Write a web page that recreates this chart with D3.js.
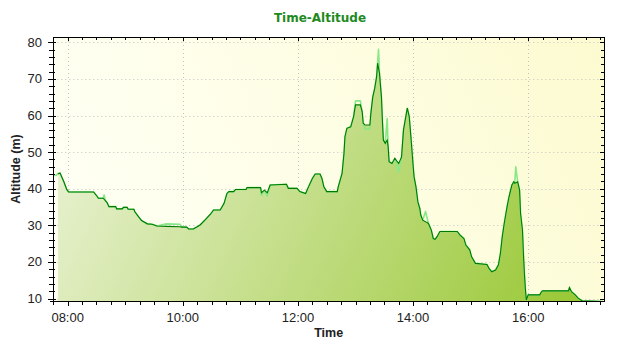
<!DOCTYPE html>
<html><head><meta charset="utf-8">
<script src="https://cdn.jsdelivr.net/npm/d3@7"></script>
<style>html,body{margin:0;padding:0;background:#fff;}svg{display:block;}</style>
</head><body>
<svg id="chart" width="640" height="350"></svg>
<script>
// ---- Data ----
const chartTitle = "Time-Altitude";
const xTitle = "Time";
const yTitle = "Altitude (m)";
const xTickLabels = ["08:00","10:00","12:00","14:00","16:00"];
const yTickValues = [10,20,30,40,50,60,70,80];

// smoothed track (dark green)
const smoothTimes = ["07:50","07:52","07:56","07:59","08:01","08:27","08:31","08:32","08:37","08:41","08:43","08:50","08:51","08:57","08:58","09:02","09:03","09:09","09:10","09:14","09:17","09:23","09:28","09:33","09:43","09:57","09:59","10:04","10:06","10:11","10:15","10:18","10:23","10:29","10:32","10:39","10:43","10:46","10:48","10:53","10:55","11:06","11:07","11:21","11:22","11:25","11:28","11:31","11:48","11:50","11:59","12:02","12:08","12:11","12:15","12:18","12:23","12:25","12:27","12:30","12:41","12:42","12:46","12:48","12:49","12:51","12:55","12:58","13:00","13:05","13:07","13:08","13:10","13:15","13:16","13:18","13:20","13:22","13:23","13:25","13:27","13:28","13:29","13:31","13:33","13:34","13:35","13:38","13:41","13:45","13:48","13:50","13:53","13:54","13:56","13:58","14:00","14:01","14:03","14:05","14:07","14:08","14:10","14:13","14:16","14:19","14:21","14:23","14:25","14:28","14:46","14:49","14:53","14:55","14:59","15:01","15:05","15:17","15:19","15:22","15:26","15:29","15:31","15:33","15:35","15:38","15:40","15:43","15:45","15:46","15:49","15:51","15:52","15:54","15:55","15:56","15:57","15:58","16:00","16:12","16:14","16:15","16:42","16:43","16:45","16:49","16:52","16:56","17:18"];
const smoothAltitude = [44.0,44.3,41.9,39.8,39.1,39.1,37.8,37.4,37.4,36.2,35.1,35.1,34.5,34.5,34.9,34.9,34.4,34.4,33.7,32.3,31.3,30.4,30.3,29.8,29.7,29.6,29.5,29.5,29.0,29.0,29.6,30.1,31.4,33.1,34.2,34.2,36.0,38.7,39.2,39.2,39.8,39.8,40.3,40.3,38.9,39.6,38.9,41.0,41.2,40.1,40.1,39.2,38.7,40.5,42.8,44.0,44.0,42.8,40.5,39.2,39.2,40.5,44.2,49.7,54.2,56.5,56.9,59.7,62.9,62.9,61.0,57.9,57.4,57.4,60.6,65.1,67.4,70.6,74.3,71.5,65.1,58.8,53.3,52.4,53.3,51.5,47.4,46.9,48.3,46.9,48.7,56.0,60.6,62.0,59.7,53.3,46.5,43.3,40.5,36.4,34.6,32.8,31.4,31.0,30.5,28.7,26.4,26.2,26.9,28.3,28.3,27.3,26.4,24.6,23.3,21.4,19.6,19.3,18.3,17.3,17.8,19.2,22.3,26.9,30.5,35.1,37.8,41.0,41.9,41.5,41.9,39.6,33.3,28.7,22.3,16.9,12.8,9.6,11.0,11.0,11.9,12.1,12.1,13.0,11.9,11.0,10.1,9.4,9.2];

// raw track (light green)
const rawTimes = ["07:45","07:48","07:50","07:52","07:56","07:59","08:01","08:27","08:31","08:32","08:37","08:38","08:39","08:41","08:43","08:50","08:51","08:57","08:58","09:02","09:03","09:09","09:10","09:14","09:17","09:23","09:28","09:33","09:43","09:57","09:59","10:04","10:06","10:11","10:15","10:18","10:23","10:29","10:32","10:39","10:43","10:46","10:48","10:53","10:55","11:06","11:07","11:21","11:22","11:25","11:28","11:31","11:48","11:50","11:59","12:02","12:08","12:11","12:15","12:18","12:23","12:25","12:27","12:30","12:41","12:42","12:46","12:48","12:49","12:51","12:55","12:58","13:00","13:05","13:07","13:08","13:10","13:15","13:16","13:18","13:20","13:22","13:24","13:25","13:27","13:28","13:29","13:31","13:33","13:34","13:35","13:38","13:41","13:45","13:48","13:50","13:53","13:54","13:56","13:58","14:00","14:01","14:03","14:05","14:07","14:08","14:10","14:13","14:16","14:19","14:21","14:23","14:25","14:28","14:46","14:49","14:53","14:55","14:59","15:01","15:05","15:17","15:19","15:22","15:26","15:29","15:31","15:33","15:35","15:38","15:40","15:43","15:45","15:46","15:47","15:49","15:51","15:52","15:54","15:55","15:56","15:57","15:58","16:00","16:12","16:14","16:15","16:42","16:43","16:45","16:49","16:52","16:56","17:18"];
const rawAltitude = [43.7,43.6,44.2,44.3,41.9,39.8,39.1,39.1,37.8,37.4,37.4,38.3,37.0,36.2,35.1,35.1,34.5,34.5,34.9,34.9,34.4,34.4,33.7,32.3,31.3,30.4,30.3,29.8,30.4,30.3,29.5,29.5,29.0,29.0,29.6,30.1,31.4,33.1,34.2,34.2,36.0,38.7,39.2,39.2,39.8,39.8,40.3,40.3,38.2,39.6,38.0,41.0,41.2,40.1,40.1,39.2,38.7,40.5,42.8,44.0,44.0,42.8,40.5,39.2,39.2,40.5,44.2,49.7,54.2,56.5,56.9,59.7,64.0,64.0,61.0,57.9,56.3,56.3,60.6,65.1,67.4,70.6,78.1,71.5,65.1,58.8,53.3,52.4,59.2,51.5,47.4,46.9,48.3,44.6,48.7,56.0,60.6,62.0,59.7,53.3,46.5,43.3,40.5,36.4,34.6,32.8,31.4,33.8,30.5,28.7,26.4,26.2,26.9,28.3,28.3,27.3,26.4,24.6,23.3,21.4,19.6,19.3,18.3,17.3,17.8,19.2,22.3,26.9,30.5,35.1,37.8,41.0,41.9,41.5,46.0,41.9,39.6,33.3,28.7,22.3,16.9,12.8,9.6,11.0,11.0,11.9,12.1,12.1,13.0,11.9,11.0,10.1,9.4,9.2];

// axis extents
const xStart = "07:45", xEnd = "17:19";
const yMin = 9.32, yMax = 81.45;

// ---- Helpers ----
const toMin = s => { const [h,m] = s.split(":").map(Number); return h*60+m; };
const fmt = m => String(Math.floor(m/60)).padStart(2,"0")+":"+String(m%60).padStart(2,"0");

const smooth = smoothTimes.map((t,i)=>({t:toMin(t), v:smoothAltitude[i]}));
const raw = rawTimes.map((t,i)=>({t:toMin(t), v:rawAltitude[i]}));

const L = 53.3, R = 604, T = 37, B = 301;
const svg = d3.select("#chart");
const x = d3.scaleLinear().domain([toMin(xStart), toMin(xEnd)]).range([L, R]);
const y = d3.scaleLinear().domain([yMin, yMax]).range([B, T]);

const defs = svg.append("defs");
const bg = defs.append("linearGradient").attr("id","bg").attr("gradientUnits","userSpaceOnUse")
  .attr("x1",L).attr("y1",B).attr("x2",R).attr("y2",T);
bg.append("stop").attr("offset",0).attr("stop-color","#fffff6");
bg.append("stop").attr("offset",0.5).attr("stop-color","#fefee6");
bg.append("stop").attr("offset",1).attr("stop-color","#fcfacf");
const fg = defs.append("linearGradient").attr("id","fill").attr("gradientUnits","userSpaceOnUse")
  .attr("x1",L).attr("y1",T).attr("x2",R).attr("y2",B);
fg.append("stop").attr("offset",0).attr("stop-color","#eff5df");
fg.append("stop").attr("offset",1).attr("stop-color","#96c62e");
defs.append("clipPath").attr("id","clip").append("rect")
  .attr("x",L).attr("y",T).attr("width",R-L).attr("height",B-T);

// plot background
svg.append("rect").attr("x",L).attr("y",T).attr("width",R-L).attr("height",B-T).attr("fill","url(#bg)");

// grid
const majorX = xTickLabels.map(toMin);
const grid = svg.append("g").attr("stroke","#c4c4c4").attr("stroke-width",1).attr("stroke-dasharray","1,3");
grid.selectAll(".gx").data(majorX).join("line")
  .attr("x1",d=>Math.round(x(d))+0.5).attr("x2",d=>Math.round(x(d))+0.5).attr("y1",T).attr("y2",B);
grid.selectAll(".gy").data(yTickValues).join("line")
  .attr("y1",d=>Math.round(y(d))+0.5).attr("y2",d=>Math.round(y(d))+0.5).attr("x1",L).attr("x2",R);

// data
const plot = svg.append("g").attr("clip-path","url(#clip)");
plot.append("path").datum(smooth)
  .attr("d", d3.area().x(d=>x(d.t)).y0(B).y1(d=>y(d.v)))
  .attr("fill","url(#fill)");
plot.append("path").datum(raw)
  .attr("d", d3.line().x(d=>x(d.t)).y(d=>y(d.v)))
  .attr("fill","none").attr("stroke","#86e886").attr("stroke-width",1.6).attr("stroke-linejoin","round");
plot.append("path").datum(smooth)
  .attr("d", d3.line().x(d=>x(d.t)).y(d=>y(d.v)))
  .attr("fill","none").attr("stroke","#007a00").attr("stroke-width",1.1);

// borders / axes
const ax = svg.append("g").attr("stroke","#000").attr("stroke-width",1).attr("shape-rendering","crispEdges");
ax.append("line").attr("x1",L-3).attr("x2",R).attr("y1",B+0.5).attr("y2",B+0.5);
ax.append("line").attr("x1",L).attr("x2",L).attr("y1",T).attr("y2",B+4);
ax.append("line").attr("x1",L).attr("x2",R+1).attr("y1",T).attr("y2",T);
ax.append("line").attr("x1",R).attr("x2",R).attr("y1",T).attr("y2",B+1);

// x ticks (every 15 min minor, 2 h major)
const xTicks = d3.range(toMin(xStart), toMin(xEnd)+1, 15);
ax.selectAll(".xt").data(xTicks).join("line")
  .attr("x1",d=>Math.round(x(d))).attr("x2",d=>Math.round(x(d)))
  .attr("y1",B).attr("y2",d=>B+(majorX.includes(d)?5:4));
ax.selectAll(".xtt").data(xTicks).join("line")
  .attr("x1",d=>Math.round(x(d))).attr("x2",d=>Math.round(x(d)))
  .attr("y1",T).attr("y2",d=>T+(majorX.includes(d)?4:3));

// y ticks (every 2 minor, 10 major)
const yTicks = d3.range(10, 81, 2);
ax.selectAll(".yt").data(yTicks).join("line")
  .attr("y1",d=>Math.round(y(d))).attr("y2",d=>Math.round(y(d)))
  .attr("x1",d=>L-(d%10===0?5:4)).attr("x2",d=>L+(d%10===0?3:2));
ax.selectAll(".ytr").data(yTicks).join("line")
  .attr("y1",d=>Math.round(y(d))).attr("y2",d=>Math.round(y(d)))
  .attr("x1",d=>R-(d%10===0?4:3)).attr("x2",R);

// labels
const lab = svg.append("g").attr("font-family","'Liberation Sans', Arial, sans-serif").attr("font-size","13px").attr("fill","#222");
lab.selectAll(".yl").data(yTickValues).join("text")
  .attr("x",42).attr("y",d=>y(d)+4.5).attr("text-anchor","end").text(d=>d);
lab.selectAll(".xl").data(majorX).join("text")
  .attr("x",d=>x(d)).attr("y",322).attr("text-anchor","middle").text(d=>fmt(d));

svg.append("text").attr("x",320).attr("y",22).attr("text-anchor","middle")
  .attr("font-family","'DejaVu Sans', sans-serif").attr("font-weight","bold").attr("font-size","12px")
  .attr("fill","#1e8a1e").text(chartTitle);
svg.append("text").attr("x",(L+R)/2).attr("y",337).attr("text-anchor","middle")
  .attr("font-family","'Liberation Sans', Arial, sans-serif").attr("font-weight","bold").attr("font-size","12.5px")
  .attr("fill","#222").text(xTitle);
svg.append("text").attr("transform",`translate(20,${(T+B)/2}) rotate(-90)`).attr("text-anchor","middle")
  .attr("font-family","'Liberation Sans', Arial, sans-serif").attr("font-weight","bold").attr("font-size","12.5px")
  .attr("fill","#222").text(yTitle);
</script>
</body></html>
